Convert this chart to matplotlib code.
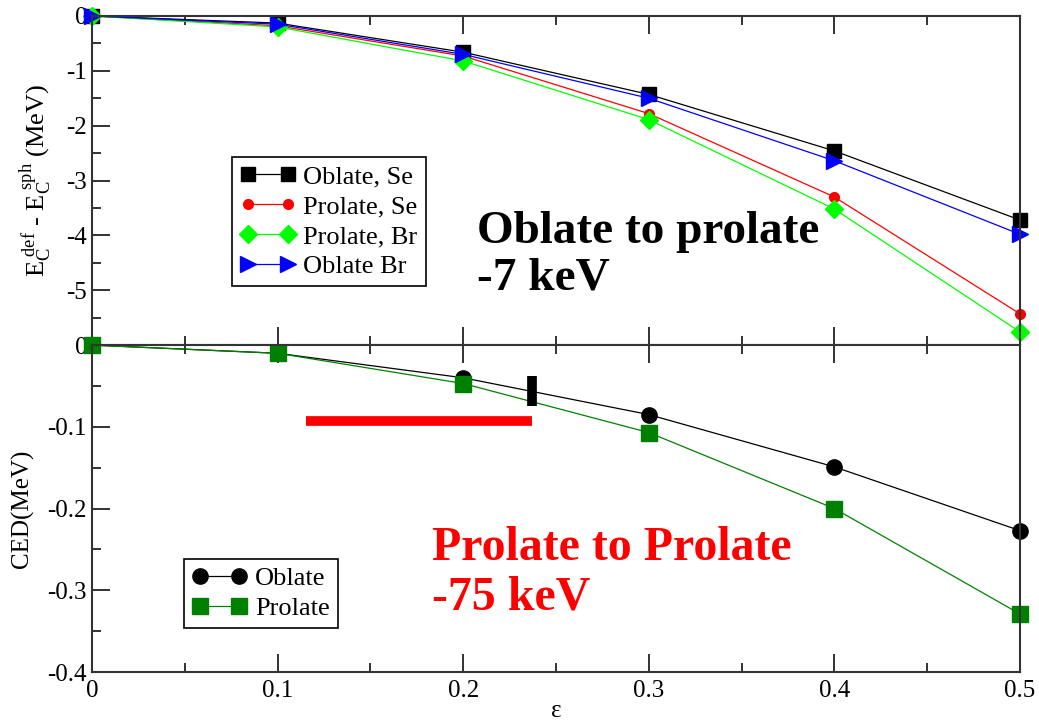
import matplotlib
matplotlib.use("Agg")
import matplotlib.pyplot as plt
from matplotlib.ticker import MultipleLocator

plt.rcParams['font.family'] = ['Liberation Serif', 'DejaVu Serif']
plt.rcParams['mathtext.fontset'] = 'custom'
plt.rcParams['mathtext.rm'] = 'Liberation Serif'
plt.rcParams['mathtext.it'] = 'Liberation Serif:italic'

# Deformation parameter
eps = [0.0, 0.1, 0.2, 0.3, 0.4, 0.5]
eps_ticks = [0.0, 0.1, 0.2, 0.3, 0.4, 0.5]
eps_labels = ['0', '0.1', '0.2', '0.3', '0.4', '0.5']

# Coulomb energy difference E_C(def) - E_C(sph), MeV
oblate_se = [0.0, -0.13, -0.66, -1.43, -2.46, -3.72]
prolate_se = [0.0, -0.18, -0.73, -1.78, -3.30, -5.43]
prolate_br = [0.0, -0.20, -0.82, -1.89, -3.52, -5.76]
oblate_br = [0.0, -0.15, -0.70, -1.50, -2.64, -3.98]

# Coulomb energy difference between mirror states, MeV
ced_oblate = [0.0, -0.010, -0.040, -0.085, -0.149, -0.227]
ced_prolate = [0.0, -0.010, -0.047, -0.107, -0.200, -0.329]

# Highlight marks in the lower panel
red_bar_x = [0.1153, 0.237]
red_bar_y = -0.093
black_bar_x = 0.237
black_bar_y = [-0.038, -0.075]

fig = plt.figure(figsize=(10.39, 7.25), dpi=100)
left, right = 0.0885, 0.9817
ax1 = fig.add_axes([left, 0.524, right - left, 0.978 - 0.524])
ax2 = fig.add_axes([left, 0.0731, right - left, 0.524 - 0.0731])

lw = 0.9
ax1.plot(eps, oblate_se, color='black', lw=lw, marker='s', ms=10, label='Oblate, Se', clip_on=False)
ax1.plot(eps, prolate_se, color='red', lw=lw, marker='o', ms=7, label='Prolate, Se', clip_on=False)
ax1.plot(eps, prolate_br, color='#00ff00', lw=lw, marker='D', ms=9, label='Prolate, Br', clip_on=False)
ax1.plot(eps, oblate_br, color='blue', lw=lw, marker='>', ms=12, label='Oblate Br', clip_on=False)

ax2.plot(eps, ced_oblate, color='black', lw=lw, marker='o', ms=11, label='Oblate', clip_on=False)
ax2.plot(eps, ced_prolate, color='#008000', lw=lw, marker='s', ms=11, label='Prolate', clip_on=False)

ax2.plot(red_bar_x, [red_bar_y, red_bar_y], color='red', lw=7, solid_capstyle='butt')
ax2.plot([black_bar_x, black_bar_x], black_bar_y, color='black', lw=7, solid_capstyle='butt')

for ax in (ax1, ax2):
    ax.set_xlim(0, 0.5)
    ax.set_xticks(eps_ticks)
    ax.xaxis.set_minor_locator(MultipleLocator(0.05))
    ax.tick_params(which='both', direction='in', top=True, right=False,
                   labelsize=18, width=1.3, color='#222222')
    ax.tick_params(which='major', length=13)
    ax.tick_params(which='minor', length=6.5)
    for s in ax.spines.values():
        s.set_linewidth(1.5)
        s.set_color('#333333')

ax1.set_ylim(-6, 0)
ax1.set_yticks([-5, -4, -3, -2, -1, 0])
ax1.set_yticklabels(['-5', '-4', '-3', '-2', '-1', '0'])
ax1.yaxis.set_minor_locator(MultipleLocator(0.5))
ax1.tick_params(labelbottom=False)

ax2.set_ylim(-0.4, 0)
ax2.set_yticks([-0.4, -0.3, -0.2, -0.1, 0])
ax2.set_yticklabels(['-0.4', '-0.3', '-0.2', '-0.1', '0'])
ax2.yaxis.set_minor_locator(MultipleLocator(0.05))
ax2.set_xticklabels(eps_labels)
ax2.tick_params(axis='x', pad=6)

ax1.set_ylabel(r'$\mathregular{E_C^{\ def}}$ - $\mathregular{E_C^{\ sph}}$ (MeV)', fontsize=19)
ax1.yaxis.set_label_coords(-0.041, 0.5)
ax2.set_ylabel('CED(MeV)', fontsize=18)
ax2.yaxis.set_label_coords(-0.062, 0.5)
ax2.set_xlabel('ε', fontsize=18)
ax2.xaxis.set_label_coords(0.5, -0.085)

leg_kw = dict(fontsize=19, numpoints=2, handlelength=2.1, labelspacing=0.25,
              borderpad=0.3, handletextpad=0.3, fancybox=False,
              framealpha=1, edgecolor='black', borderaxespad=0)
leg1 = ax1.legend(loc='upper left', bbox_to_anchor=(0.151, 0.572), **leg_kw)
leg1.get_frame().set_linewidth(1.2)
leg2 = ax2.legend(loc='upper left', bbox_to_anchor=(0.099, 0.346), **leg_kw)
leg2.get_frame().set_linewidth(1.2)

fig.text(477 / 1039, 1 - 290 / 725, 'Oblate to prolate\n-7 keV', fontsize=34,
         fontweight='bold', color='black', ha='left', va='baseline',
         linespacing=1.17)
fig.text(432 / 1039, 1 - 610 / 725, 'Prolate to Prolate\n-75 keV', fontsize=34.5,
         fontweight='bold', color='red', ha='left', va='baseline',
         linespacing=1.17)

fig.savefig('out.png', dpi=100)
